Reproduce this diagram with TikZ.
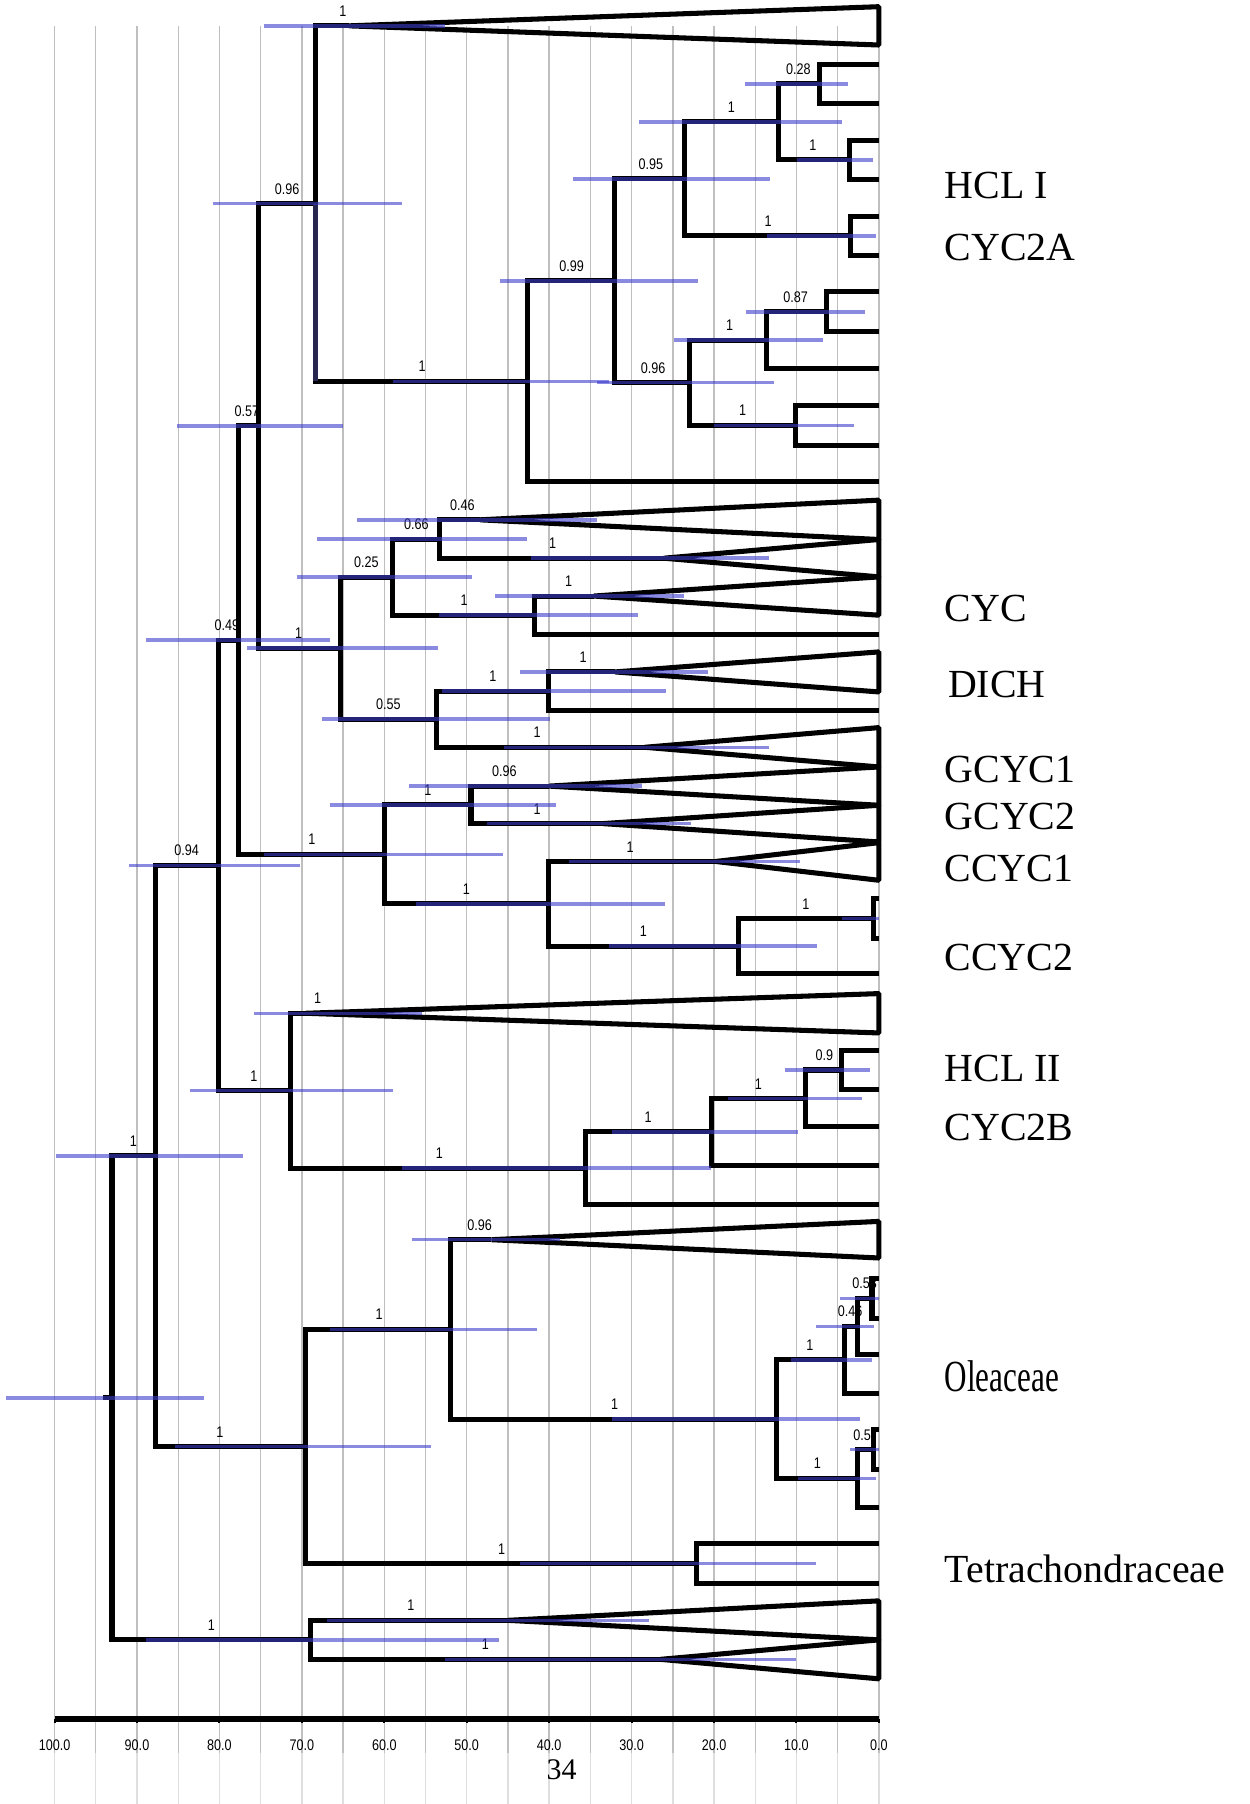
\documentclass[tikz,border=0pt]{standalone}
\usepackage{fontspec}
\setmainfont{Liberation Serif}
\newfontfamily\supfont[FakeStretch=0.82]{Liberation Sans}
\newfontfamily\olefont[FakeStretch=0.7]{Liberation Serif}
\definecolor{hpdblue}{RGB}{60,60,205}
\definecolor{navybr}{RGB}{38,38,80}

\begin{document}
\begin{tikzpicture}[x=-0.07161cm, y=-0.01cm,
    branch/.style={line width=1.25pt},
    tri/.style={line width=1.25pt, line join=bevel},
    hpd/.style={line width=0.85pt, draw=hpdblue, draw opacity=0.6},
    gridl/.style={gray!50, line width=0.35pt},
    pp/.style={font=\supfont\fontsize{3.8}{4.5}\selectfont, inner sep=0pt, anchor=south, yshift=0.075cm},
    axlab/.style={font=\supfont\fontsize{3.8}{4.5}\selectfont, inner sep=0pt},
    clade/.style={font=\fontsize{9.85}{12}\selectfont, inner sep=0pt, anchor=west}]
    \useasboundingbox (106.62,0) rectangle (-44.90,1568);
    % time grid
    \foreach \t in {0,5,...,100} {
        \draw[gridl] (\t,22.5) -- (\t,1524);
        \draw[gray!25, line width=0.35pt] (\t,1524) -- (\t,1568);
    }
    % internal nodes (age, row)
    \coordinate (root) at (93.03,1215.0);
    \coordinate (stub) at (94.10,1215.0);
    \coordinate (nE) at (87.80,1004.7);
    \coordinate (nD) at (80.14,752.2);
    \coordinate (nC) at (77.70,556.35);
    \coordinate (nB) at (75.26,370.1);
    \coordinate (nA) at (68.29,176.95);
    \coordinate (nAE) at (42.65,331.4);
    \coordinate (nAF) at (32.06,244.05);
    \coordinate (nAG) at (23.55,155.5);
    \coordinate (nAI) at (12.20,105.95);
    \coordinate (nAK) at (7.18,72.9);
    \coordinate (nAL) at (3.62,139.0);
    \coordinate (nAJ) at (3.48,205.05);
    \coordinate (nAH) at (23.00,332.6);
    \coordinate (nAM) at (13.59,295.65);
    \coordinate (nAO) at (6.41,271.0);
    \coordinate (nAN) at (10.10,369.6);
    \coordinate (nY) at (65.30,563.3);
    \coordinate (nZ) at (59.02,501.55);
    \coordinate (nAB) at (53.31,468.5);
    \coordinate (nAC) at (41.81,534.6);
    \coordinate (nAA) at (53.66,625.1);
    \coordinate (nAD) at (40.07,600.65);
    \coordinate (nT) at (59.93,742.6);
    \coordinate (nU) at (49.48,699.55);
    \coordinate (nV) at (40.07,785.6);
    \coordinate (nW) at (17.07,822.4);
    \coordinate (nX) at (0.70,798.5);
    \coordinate (nN) at (71.43,948.0);
    \coordinate (nO) at (35.54,1015.3);
    \coordinate (nP) at (20.35,983.8);
    \coordinate (nQ) at (8.85,954.75);
    \coordinate (nS) at (4.53,930.0);
    \coordinate (nF) at (69.55,1257.2);
    \coordinate (nG) at (51.92,1155.5);
    \coordinate (nH) at (12.40,1233.45);
    \coordinate (nI) at (4.18,1181.9);
    \coordinate (nK) at (2.58,1153.0);
    \coordinate (nL) at (0.84,1128.5);
    \coordinate (nJ) at (2.58,1285.0);
    \coordinate (nM) at (0.70,1259.95);
    \coordinate (nTT) at (22.09,1358.9);
    \coordinate (nBot) at (68.99,1425.3);
    % collapsed clades
    \coordinate (aTop) at (64.3,22.45);
    \coordinate (aTri1) at (48.4,451.8);
    \coordinate (aTri2) at (26.1,485.15);
    \coordinate (aTri3) at (34.6,518.05);
    \coordinate (aDich) at (32.0,584.0);
    \coordinate (aTriAA) at (28.4,649.5);
    \coordinate (aGcyc1) at (40.0,683.25);
    \coordinate (aGcyc2) at (33.5,715.85);
    \coordinate (aCcyc1) at (19.8,748.75);
    \coordinate (aHcl2) at (69.5,880.7);
    \coordinate (aOle) at (47.0,1077.5);
    \coordinate (aBotU) at (45.0,1408.35);
    \coordinate (aBotL) at (26.5,1442.25);

    % posterior values
    \foreach \n/\a/\s [count=\i] in {aTop/65.02/1, nA/71.78/0.96, nAE/55.4/1, nAF/37.28/0.99,
        nAG/27.67/0.95, nAI/17.91/1, nAK/9.76/0.28, nAL/8.01/1, nAJ/13.45/1, nAH/27.39/0.96,
        nAM/18.12/1, nAO/10.10/0.87, nAN/16.52/1, nB/76.66/0.57, nC/79.09/0.49, nD/83.97/0.94,
        nE/90.45/1, nY/70.38/1, nZ/62.16/0.25, nAB/56.10/0.66, aTri1/50.52/0.46, aTri2/39.58/1,
        nAC/50.31/1, aTri3/37.63/1, nAA/59.51/0.55, nAD/46.83/1, aDich/35.89/1, aTriAA/41.46/1,
        nT/68.78/1, nU/54.70/1, aGcyc1/45.44/0.96, aGcyc2/41.46/1, nV/50.03/1, aCcyc1/30.17/1,
        nW/28.57/1, nX/8.85/1, nN/75.82/1, aHcl2/68.08/1, nO/53.31/1, nP/28.01/1, nQ/14.63/1,
        nS/6.62/0.9, nF/79.94/1, nG/60.63/1, aOle/48.43/0.96, nH/32.06/1, nI/8.36/1, nK/3.48/0.46,
        nL/1.72/0.53, nJ/7.46/1, nM/1.6/0.57, nTT/45.78/1, nBot/80.98/1, aBotU/56.79/1, aBotL/47.74/1}
        \node[pp] (pp\i) at (\a,0 |- \n) {\s};

    % branches
    \draw[branch] (stub) -- (root);
    \foreach \p/\c in {root/nE, root/nBot, nE/nD, nE/nF, nD/nC, nD/nN, nC/nB, nC/nT, nB/nA, nB/nY,
        nA/aTop, nA/nAE, nAE/nAF, nAF/nAG, nAF/nAH, nAG/nAI, nAG/nAJ, nAI/nAK, nAI/nAL, nAH/nAM,
        nAH/nAN, nAM/nAO, nY/nZ, nY/nAA, nZ/nAB, nZ/nAC, nAB/aTri1, nAB/aTri2, nAC/aTri3, nAA/nAD,
        nAA/aTriAA, nAD/aDich, nT/nU, nT/nV, nU/aGcyc1, nU/aGcyc2, nV/aCcyc1, nV/nW, nW/nX,
        nN/aHcl2, nN/nO, nO/nP, nP/nQ, nQ/nS, nF/nG, nF/nTT, nG/aOle, nG/nH, nH/nI, nH/nJ, nI/nK,
        nK/nL, nJ/nM, nBot/aBotU, nBot/aBotL}
        \draw[branch] (\p) |- (\c);
    \foreach \p/\y [count=\i] in {nAK/55.9, nAK/89.9, nAL/122.3, nAL/155.7, nAJ/188.4, nAJ/221.7,
        nAO/253.6, nAO/288.4, nAM/320.3, nAN/352.2, nAN/387.0, nAE/418.8, nAC/551.2, nAD/617.3,
        nX/781.1, nX/815.9, nW/846.3, nS/912.9, nS/947.1, nQ/979.5, nP/1012.9, nO/1046.8,
        nL/1111.4, nL/1145.6, nK/1177.5, nI/1210.8, nM/1242.7, nM/1277.2, nJ/1310.0,
        nTT/1341.8, nTT/1376.0} {
        \coordinate (tip\i) at (0,\y);
        \draw[branch] (\p) |- (tip\i);
    }
    \foreach \a/\t/\b in {aTop/5.8/39.1, aTri1/434.7/468.9, aTri2/468.9/501.4, aTri3/501.4/534.7,
        aDich/566.6/601.4, aTriAA/632.4/666.6, aGcyc1/666.6/699.9, aGcyc2/699.9/731.8,
        aCcyc1/732.4/765.1, aHcl2/863.6/897.8, aOle/1061.6/1093.4, aBotU/1391.4/1425.3,
        aBotL/1425.3/1459.2}
        \draw[tri] (\a) -- (0,\t) -- (0,\b) -- cycle;
    \draw[branch, navybr] (nA) -- (nA |- nAE);

    % 95% HPD bars
    \foreach \n/\a/\b in {aTop/74.56/52.61, nA/80.84/57.84, nAE/58.89/32.75, nAF/45.99/21.95,
        nAG/37.07/13.24, nAI/29.06/4.53, nAK/16.24/3.69, nAL/9.9/0.7, nAJ/13.59/0.35,
        nAH/34.15/12.68, nAM/24.88/6.83, nAO/16.17/1.74, nAN/20.0/3.0, nB/85.16/65.02,
        nC/88.85/66.55, nD/90.94/70.17, nE/99.79/77.14, root/105.92/81.88, nY/76.66/53.52,
        nZ/70.59/49.34, nAB/68.15/42.65, aTri1/63.28/34.15, aTri2/42.16/13.38, nAC/53.31/29.27,
        aTri3/46.55/23.69, nAA/67.6/39.86, nAD/52.96/25.78, aDich/43.55/20.7, aTriAA/45.44/13.38,
        nT/74.56/45.64, nU/66.55/39.16, aGcyc1/57.0/28.71, aGcyc2/47.53/22.79, nV/56.1/25.92,
        aCcyc1/37.63/9.55, nW/32.75/7.46, nX/4.53/0, nN/83.62/58.89, aHcl2/75.75/55.4,
        nO/57.84/20.42, nP/32.4/9.76, nQ/18.26/2.09, nS/11.36/1.05, nF/85.37/54.36,
        nG/66.55/41.46, aOle/56.59/38.68, nH/32.4/2.3, nI/10.66/0.84, nK/7.67/0.56, nL/4.74/0,
        nJ/9.76/0.35, nM/3.48/0, nTT/43.55/7.67, nBot/88.85/46.13, aBotU/66.9/27.87,
        aBotL/52.61/10.1}
        \draw[hpd] (\a,0 |- \n) -- (\b,0 |- \n);

    % time axis
    \draw[line width=1.6pt] (100,1494) -- (0,1494);
    \foreach \t in {100,90,...,0} {
        \draw[line width=0.5pt] (\t,1494) -- (\t,1498);
        \node[axlab] (ax\t) at (\t,1517) {\t.0};
    }
    \node[font=\fontsize{7.4}{9}\selectfont, inner sep=0pt] (pagenum) at (38.5,1538) {34};

    % clade names
    \node[clade] (hcl1) at (-7.89,161.5) {HCL I};
    \node[clade] (cyc2a) at (-7.89,215.4) {CYC2A};
    \node[clade] (cyc) at (-7.89,528.5) {CYC};
    \node[clade] (dich) at (-8.31,594.7) {DICH};
    \node[clade] (gcyc1) at (-7.89,669) {GCYC1};
    \node[clade] (gcyc2) at (-7.89,709.8) {GCYC2};
    \node[clade] (ccyc1) at (-7.89,755) {CCYC1};
    \node[clade] (ccyc2) at (-7.89,831.8) {CCYC2};
    \node[clade] (hcl2) at (-7.89,929) {HCL II};
    \node[clade] (cyc2b) at (-7.89,979.7) {CYC2B};
    \node[clade, font=\olefont\fontsize{11}{13}\selectfont] (olea) at (-7.89,1196) {Oleaceae};
    \node[clade] (tetra) at (-7.89,1364) {Tetrachondraceae};
\end{tikzpicture}
\end{document}
